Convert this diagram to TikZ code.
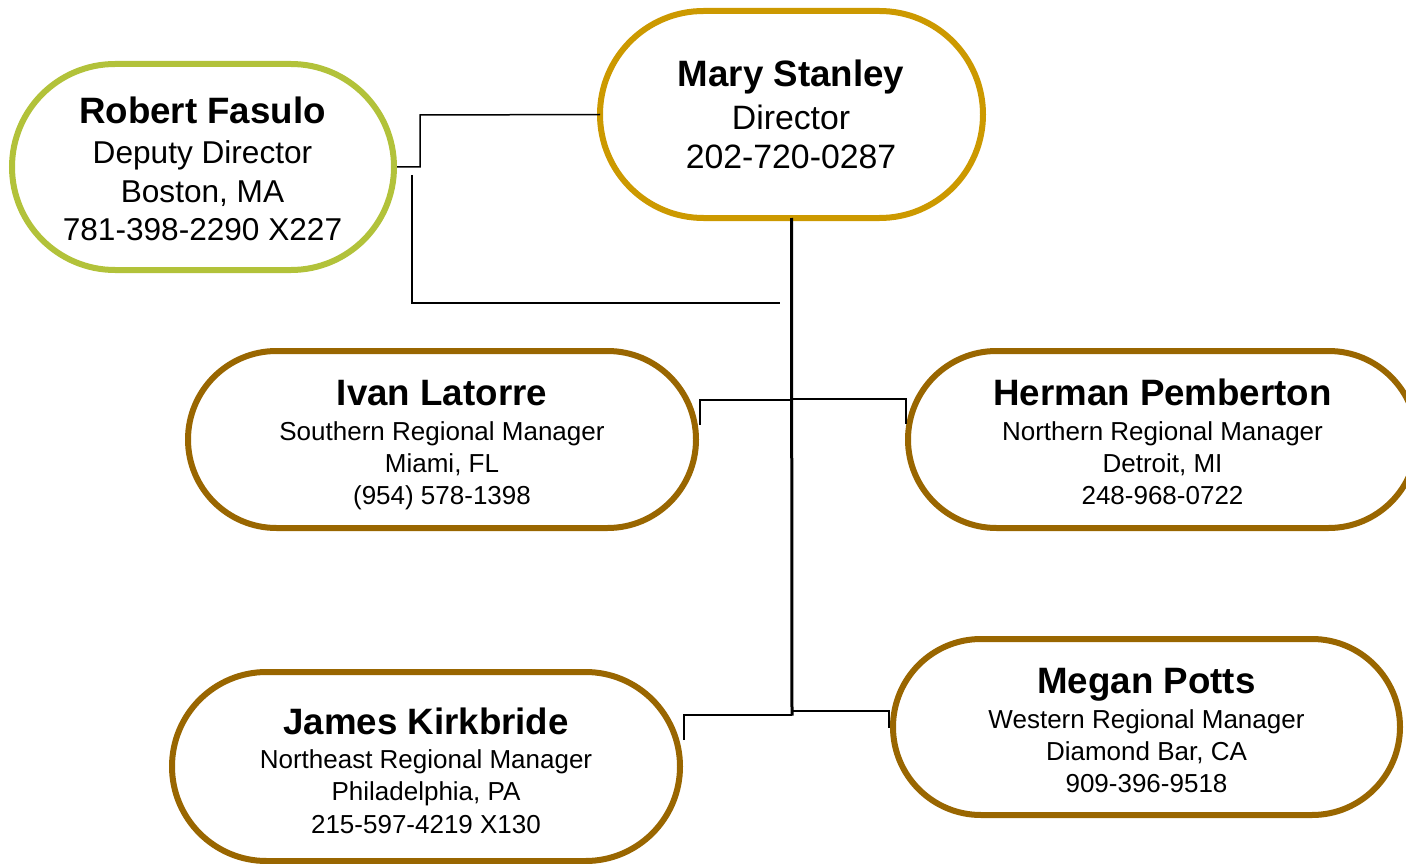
\documentclass[tikz,border=0pt]{standalone}
\usepackage{fontspec}
\setmainfont{Liberation Sans}
\usetikzlibrary{shapes.misc}
\definecolor{gold}{RGB}{204,153,0}
\definecolor{lime}{RGB}{178,194,58}
\definecolor{brownish}{RGB}{153,102,0}
\tikzset{
  pill/.style={rounded rectangle, draw, line width=6pt, fill=white, inner sep=0pt, outer sep=0pt},
  nm/.style={anchor=base, inner sep=0pt, font=\fontsize{36.7}{44}\selectfont\bfseries},
  bigtxt/.style={anchor=base, inner sep=0pt, font=\fontsize{33.8}{40}\selectfont},
  midtxt/.style={anchor=base, inner sep=0pt, font=\fontsize{31.6}{38}\selectfont},
  smtxt/.style={anchor=base, inner sep=0pt, font=\fontsize{26}{32}\selectfont},
  conn/.style={line width=1.5pt, black},
  trunk/.style={line width=3pt, black}
}
\begin{document}
\begin{tikzpicture}[x=1pt,y=-1pt]
\useasboundingbox (0,0) rectangle (1406,864);
% boxes
\node[pill, draw=gold, minimum width=383pt, minimum height=207pt] (mary) at (791.5,114.5) {};
\node[pill, draw=lime, minimum width=382pt, minimum height=206pt] (robert) at (203,167) {};
\node[pill, draw=brownish, minimum width=508pt, minimum height=177pt] (ivan) at (442,439.5) {};
\node[pill, draw=brownish, minimum width=509pt, minimum height=177pt] (herman) at (1162.5,439.5) {};
\node[pill, draw=brownish, minimum width=508pt, minimum height=189pt] (james) at (426,766.5) {};
\node[pill, draw=brownish, minimum width=507pt, minimum height=176pt] (megan) at (1146.5,727) {};
% texts
\node[nm] (mary-n) at (791,86.7) {Mary Stanley};
\node[bigtxt] (mary-t) at (791,129.3) {Director};
\node[bigtxt] (mary-p) at (791,168.3) {202-720-0287};
\node[nm] (robert-n) at (202.5,124) {Robert Fasulo};
\node[midtxt] (robert-t) at (202.5,164) {Deputy Director};
\node[midtxt] (robert-c) at (202.5,202) {Boston, MA};
\node[midtxt] (robert-p) at (202.5,240) {781-398-2290 X227};
\node[nm] (ivan-n) at (442,405.5) {Ivan Latorre};
\node[smtxt] (ivan-t) at (442,440.5) {Southern Regional Manager};
\node[smtxt] (ivan-c) at (442,472) {Miami, FL};
\node[smtxt] (ivan-p) at (442,504) {(954) 578-1398};
\node[nm] (herman-n) at (1162.5,405.5) {Herman Pemberton};
\node[smtxt] (herman-t) at (1162.5,440.5) {Northern Regional Manager};
\node[smtxt] (herman-c) at (1162.5,472) {Detroit, MI};
\node[smtxt] (herman-p) at (1162.5,504) {248-968-0722};
\node[nm] (james-n) at (426,734) {James Kirkbride};
\node[smtxt] (james-t) at (426,768) {Northeast Regional Manager};
\node[smtxt] (james-c) at (426,800.5) {Philadelphia, PA};
\node[smtxt] (james-p) at (426,833) {215-597-4219 X130};
\node[nm] (megan-n) at (1146.5,693.8) {Megan Potts};
\node[smtxt] (megan-t) at (1146.5,728.3) {Western Regional Manager};
\node[smtxt] (megan-c) at (1146.5,760.2) {Diamond Bar, CA};
\node[smtxt] (megan-p) at (1146.5,792.8) {909-396-9518};
% connector coordinates
\coordinate (rob-in) at (397,167);
\coordinate (s1) at (412,175);
\coordinate (s2) at (780,303);
\coordinate (jct) at (792,715.5);
\coordinate (ivan-in) at (700,425);
\coordinate (herman-in) at (906,424);
\coordinate (james-in) at (684,740);
\coordinate (megan-in) at (889,728);
% connectors
\draw[conn] (mary.west) -- (420,115) |- (rob-in);
\draw[conn] (s1) |- (s2);
\draw[trunk] (mary.south) -- (jct);
\draw[conn] (792,400) -| (ivan-in);
\draw[conn] (792,399) -| (herman-in);
\draw[conn] (792,715) -| (james-in);
\draw[conn] (792,711) -| (megan-in);
\end{tikzpicture}
\end{document}
